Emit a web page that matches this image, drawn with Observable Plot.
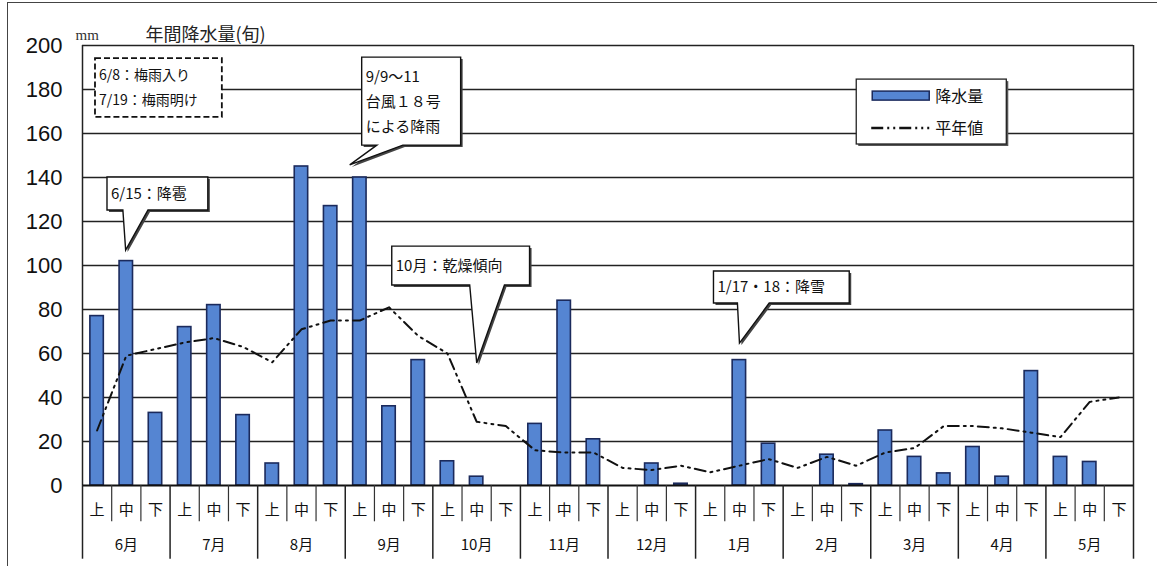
<!DOCTYPE html>
<html><head><meta charset="utf-8">
<script src="https://cdn.jsdelivr.net/npm/d3@7"></script>
<script src="https://cdn.jsdelivr.net/npm/@observablehq/plot@0.6"></script>
<style>
body{margin:0;background:#fff;}
#wrap{position:relative;width:1157px;height:566px;overflow:hidden;background:#fff;}
#wrap svg{position:absolute;left:0;top:0;}
#border{position:absolute;left:7px;top:2px;width:1200px;height:600px;border-left:1.5px solid #444;border-top:1.5px solid #444;pointer-events:none;}
</style></head><body><div id="wrap"><div id="border"></div></div>
<script>
// ---- data ----
const months = ["6月","7月","8月","9月","10月","11月","12月","1月","2月","3月","4月","5月"];
const dekads = ["上","中","下"];
const rainfall = [77,102,33, 72,82,32, 10,145,127, 140,36,57, 11,4,0, 28,84,21, 0,10,0.8, 0,57,19, 0,14,0.6, 25,13,5.5, 17.5,4,52, 13,10.7,0];
const normal   = [25,59,62, 65,67,63, 56,71,75, 75,81,68, 60,29,27, 16,15,15, 8,7,9, 6,9,12, 8,13,9, 15,17,27, 27,26,24, 22,38,40];
const yTicks = [0,20,40,60,80,100,120,140,160,180,200];
const titleText = "年間降水量(旬)";
const unitText = "mm";
const seriesNames = ["降水量","平年値"];
// callouts: box [x-left, x-right (dekad index units), y-top, y-bottom (mm)], tail [base-left x, base-right x, tip x, tip y]
const callouts = [
  {lines:["6/8：梅雨入り","7/19：梅雨明け"], box:[0.445,4.79,194,167.3], dashed:true, size:14},
  {lines:["6/15：降雹"], box:[0.856,4.31,140,125], tail:[1.40,2.26,1.495,106.8], size:15},
  {lines:["9/9～11","台風１８号","による降雨"], box:[9.58,12.97,194.5,154.5], tail:[10.10,10.99,9.17,145.5], size:15},
  {lines:["10月：乾燥傾向"], box:[10.61,15.33,108.6,90.9], tail:[13.28,14.47,13.52,55.5], size:15},
  {lines:["1/17・18：降雪"], box:[21.63,26.28,97.3,82.7], tail:[22.45,23.54,22.52,64.5], size:15}
];
const legendBox = [26.52,31.66,184.5,155];

const rows = months.flatMap((m, mi) => dekads.map((d, di) => {
  const i = mi * 3 + di;
  return {i, month: m, dekad: d, rain: rainfall[i], normal: normal[i]};
}));

const JP = "'Noto Sans CJK JP','Noto Sans',sans-serif";
const barFill = "#5585d2", barStroke = "#1b2a5c";
const dash = "11,5,2,5,2,5";

const plot = Plot.plot({
  width: 1157, height: 566,
  marginLeft: 82, marginRight: 24, marginTop: 45, marginBottom: 81,
  x: {type: "linear", domain: [0, 36], axis: null},
  y: {domain: [0, 200], axis: null},
  style: {fontFamily: "'Liberation Sans',Arial,sans-serif", background: "transparent", color: "#111"},
  marks: [
    Plot.ruleY(yTicks.filter(v => v > 0), {stroke: "#222", strokeWidth: 1.5}),
    Plot.ruleX([0, 36], {y1: 0, y2: 200, stroke: "#222", strokeWidth: 1.5}),
    Plot.rectY(rows.filter(d => d.rain > 0), {x1: d => d.i + 0.27, x2: d => d.i + 0.73, y1: 0, y2: "rain", fill: barFill, stroke: barStroke, strokeWidth: 1.6}),
    Plot.line(rows, {x: d => d.i + 0.5, y: "normal", stroke: "#111", strokeWidth: 2, strokeDasharray: dash}),
    Plot.ruleY([0], {stroke: "#111", strokeWidth: 2}),
    // category separators below baseline
    Plot.ruleX(d3.range(0, 37).filter(i => i % 3 !== 0), {y1: 0, y2: -16.5, stroke: "#333", strokeWidth: 1.2}),
    Plot.ruleX(d3.range(0, 37, 3), {y1: 0, y2: -33.5, stroke: "#222", strokeWidth: 1.5}),
    // y tick labels
    Plot.text(yTicks, {x: 0, y: d => d, text: d => String(d), dx: -20, textAnchor: "end", fontSize: 22, fill: "#111"}),
    // dekad labels
    Plot.text(rows, {x: d => d.i + 0.5, y: 0, dy: 25, text: "dekad", fontSize: 15, fontFamily: JP, fill: "#111"}),
    // month labels
    Plot.text(months, {x: (d, i) => i * 3 + 1.5, y: 0, dy: 60, text: d => d, fontSize: 15, fontFamily: JP, fill: "#111"}),
    // title & unit
    Plot.text([titleText], {frameAnchor: "top-left", dx: 63, dy: -17, textAnchor: "start", fontSize: 18, fontFamily: JP, fill: "#222"}),
    Plot.text([unitText], {frameAnchor: "top-left", dx: -7, dy: -16, textAnchor: "start", fontSize: 15, fontFamily: "'Liberation Serif',serif", fill: "#333"})
  ]
});

document.getElementById("wrap").appendChild(plot);

// annotations positioned through the plot's scales
const sx = plot.scale("x").apply, sy = plot.scale("y").apply;
const svg = d3.select(plot);
const g = svg.append("g").attr("font-family", JP).attr("text-anchor", "start");

function boxPath(c) {
  const [a, b, t, u] = c.box;
  const x1 = sx(a), x2 = sx(b), y1 = sy(t), y2 = sy(u);
  if (!c.tail) return `M${x1},${y1}H${x2}V${y2}H${x1}Z`;
  const [l, r, tx, ty] = c.tail;
  return `M${x1},${y1}H${x2}V${y2}H${sx(r)}L${sx(tx)},${sy(ty)}L${sx(l)},${y2}H${x1}Z`;
}

for (const c of callouts) {
  const d = boxPath(c);
  if (!c.dashed) g.append("path").attr("d", d).attr("fill", "#444").attr("transform", "translate(2,2)");
  g.append("path").attr("d", d).attr("fill", "#fff").attr("stroke", "#111")
    .attr("stroke-width", c.dashed ? 1.8 : 1.4).attr("stroke-dasharray", c.dashed ? "6,3" : null);
  const x1 = sx(c.box[0]), yc = (sy(c.box[2]) + sy(c.box[3])) / 2, n = c.lines.length;
  c.lines.forEach((s, k) => {
    g.append("text").attr("x", x1 + 4).attr("y", yc + (k - (n - 1) / 2) * 25)
      .attr("dy", "0.36em").attr("font-size", c.size).attr("fill", "#111").text(s);
  });
}

// legend
{
  const [a, b, t, u] = legendBox;
  const x1 = sx(a), x2 = sx(b), y1 = sy(t), y2 = sy(u);
  g.append("rect").attr("x", x1 + 2).attr("y", y1 + 2).attr("width", x2 - x1).attr("height", y2 - y1).attr("fill", "#555");
  g.append("rect").attr("x", x1).attr("y", y1).attr("width", x2 - x1).attr("height", y2 - y1).attr("fill", "#fff").attr("stroke", "#222").attr("stroke-width", 1.3);
  g.append("rect").attr("x", x1 + 16).attr("y", y1 + 12).attr("width", 57).attr("height", 9).attr("fill", barFill).attr("stroke", barStroke).attr("stroke-width", 1.5);
  g.append("line").attr("x1", x1 + 15).attr("x2", x1 + 73).attr("y1", y1 + 49).attr("y2", y1 + 49)
    .attr("stroke", "#111").attr("stroke-width", 2.5).attr("stroke-dasharray", "12,4,2,4,2,4");
  g.append("text").attr("x", x1 + 79).attr("y", y1 + 17).attr("dy", "0.36em").attr("font-size", 16).attr("fill", "#111").text(seriesNames[0]);
  g.append("text").attr("x", x1 + 79).attr("y", y1 + 49).attr("dy", "0.36em").attr("font-size", 16).attr("fill", "#111").text(seriesNames[1]);
}
</script></body></html>
